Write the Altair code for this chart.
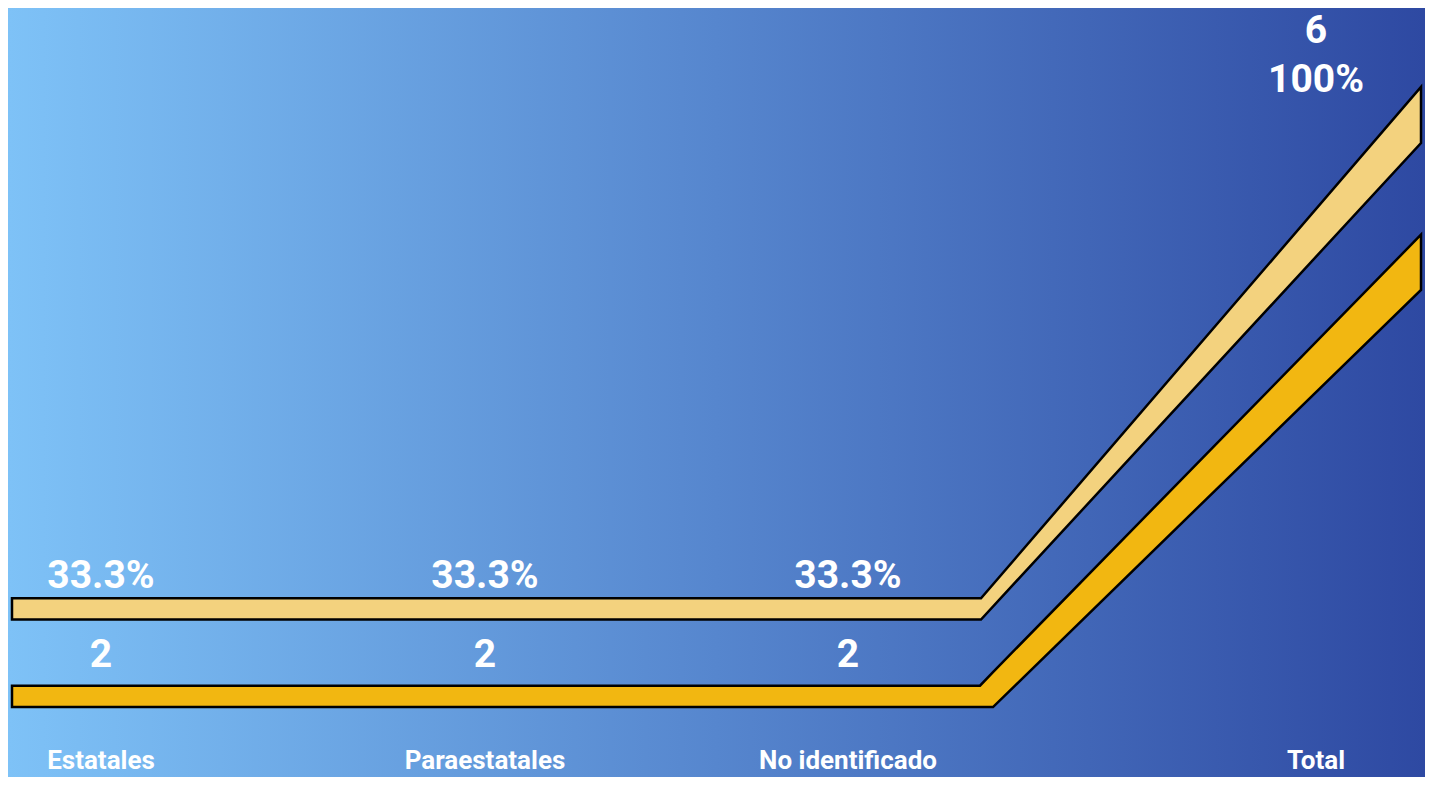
import altair as alt
import pandas as pd

# ---- data ----
categories = ["Estatales", "Paraestatales", "No identificado", "Total"]
counts = [2, 2, 2, 6]
percents = [33.3, 33.3, 33.3, 100]
label_pos = [101, 485, 848, 1316]          # horizontal slot of each category

# ribbon outlines (top edge = value, base = lower edge of the ribbon)
pct_ribbon_pos = [12, 981, 1421]
pct_ribbon_top = [33.3, 33.3, 100]
pct_ribbon_base = [30.54, 30.54, 92.69]

cnt_ribbon_pos = [12, 980, 993, 1421]
cnt_ribbon_top = [2, 2, 2.12, 6]
cnt_ribbon_base = [1.81, 1.81, 1.81, 5.51]

# ---- layout ----
W, H = 1417, 769
X_DOMAIN = [8, 1425]
PCT_DOMAIN = [10, 110.3]
CNT_DOMAIN = [1.19, 8.01]
FONT = "Roboto"

xenc = alt.X("pos:Q", scale=alt.Scale(domain=X_DOMAIN, nice=False, zero=False), axis=None)
pct_scale = alt.Scale(domain=PCT_DOMAIN, nice=False, zero=False)
cnt_scale = alt.Scale(domain=CNT_DOMAIN, nice=False, zero=False)

df = pd.DataFrame({
    "category": categories,
    "count": counts,
    "pct": percents,
    "pos": label_pos,
})
df["pct_label"] = [f"{p:.1f}%" for p in percents]
df["count_label"] = [str(c) for c in counts]
df["total_label"] = [f"{c}\n{p:.0f}%" for c, p in zip(counts, percents)]

bg = alt.Chart(pd.DataFrame({"k": [0]})).mark_rect(
    fill=alt.Gradient(
        gradient="linear",
        stops=[
            alt.GradientStop(offset=0, color="#7EC2F7"),
            alt.GradientStop(offset=0.5, color="#5686CE"),
            alt.GradientStop(offset=1, color="#2E49A2"),
        ],
        x1=0, x2=1, y1=0, y2=0,
    ),
    strokeWidth=0,
).encode(x=alt.value(0), x2=alt.value(W), y=alt.value(0), y2=alt.value(H))

pct_ribbon = alt.Chart(pd.DataFrame({
    "pos": pct_ribbon_pos, "top": pct_ribbon_top, "base": pct_ribbon_base
})).mark_area(fill="#F3D27E", stroke="#000000", strokeWidth=2.5, strokeJoin="miter", opacity=1).encode(
    x=xenc,
    y=alt.Y("top:Q", scale=pct_scale, axis=None),
    y2="base:Q",
)

cnt_ribbon = alt.Chart(pd.DataFrame({
    "pos": cnt_ribbon_pos, "top": cnt_ribbon_top, "base": cnt_ribbon_base
})).mark_area(fill="#F2B711", stroke="#000000", strokeWidth=2.5, strokeJoin="miter", opacity=1).encode(
    x=xenc,
    y=alt.Y("top:Q", scale=cnt_scale, axis=None),
    y2="base:Q",
)

base = alt.Chart(df)
not_total = "datum.category != 'Total'"
is_total = "datum.category == 'Total'"

pct_text = base.transform_filter(not_total).mark_text(
    font=FONT, fontSize=39, fontWeight="bold", color="white", align="center",
    baseline="alphabetic", dy=-10,
).encode(x=xenc, y=alt.Y("pct:Q", scale=pct_scale, axis=None), text="pct_label:N")

cnt_text = base.transform_filter(not_total).mark_text(
    font=FONT, fontSize=39, fontWeight="bold", color="white", align="center",
    baseline="alphabetic", dy=-19,
).encode(x=xenc, y=alt.Y("count:Q", scale=cnt_scale, axis=None), text="count_label:N")

total_text = base.transform_filter(is_total).mark_text(
    font=FONT, fontSize=39, fontWeight="bold", color="white", align="center",
    baseline="alphabetic", dy=-44, lineBreak="\n", lineHeight=49,
).encode(x=xenc, y=alt.Y("pct:Q", scale=pct_scale, axis=None), text="total_label:N")

cat_text = base.mark_text(
    font=FONT, fontSize=26, fontWeight="bold", color="white", align="center",
    baseline="alphabetic",
).encode(x=xenc, y=alt.value(761), text="category:N")

chart = alt.layer(
    bg, pct_ribbon, cnt_ribbon, pct_text, cnt_text, total_text, cat_text
).resolve_scale(y="independent").properties(
    width=W, height=H, padding=0, autosize=alt.AutoSizeParams(type="none"),
).configure_view(stroke=None).configure(background="#2E49A2")

chart.save("out.html", embed_options={"renderer": "svg", "actions": False})
